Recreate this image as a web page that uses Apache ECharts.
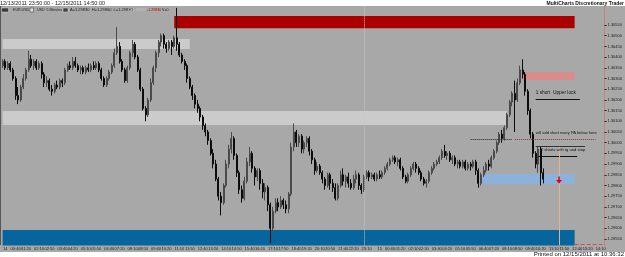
<!DOCTYPE html>
<html>
<head>
<meta charset="utf-8">
<script src="https://cdn.jsdelivr.net/npm/echarts/dist/echarts.min.js"></script>
<style>
html,body{margin:0;padding:0;background:#fff;}
#wrap{position:relative;width:625px;height:257px;overflow:hidden;background:#fff;}
#bg{position:absolute;left:0;top:6px;width:625px;height:246px;background:#a8a8a8;}
#chart{position:absolute;left:0;top:0;width:625px;height:257px;}
</style>
</head>
<body>
<div id="wrap"><div id="bg"></div><div id="chart"></div></div>
<script>
// ---- data (EUR.USD, 10-minute bars) ----
// each bar: [open, close, low, high]
const bars = [
[1.3036,1.3038,1.3035,1.3039],[1.3038,1.3035,1.3034,1.3039],[1.3035,1.3037,1.3034,1.3038],[1.3037,1.3034,1.3033,1.3038],
[1.3034,1.3030,1.3029,1.3035],[1.3030,1.3022,1.3020,1.3031],[1.3022,1.3020,1.3018,1.3026],[1.3020,1.3026,1.3019,1.3027],
[1.3026,1.3030,1.3025,1.3032],[1.3030,1.3034,1.3029,1.3035],[1.3034,1.3039,1.3033,1.3043],[1.3039,1.3036,1.3035,1.3041],
[1.3036,1.3038,1.3034,1.3039],[1.3038,1.3035,1.3034,1.3039],[1.3035,1.3037,1.3034,1.3038],[1.3037,1.3032,1.3030,1.3038],
[1.3032,1.3028,1.3026,1.3033],[1.3028,1.3029,1.3026,1.3031],[1.3029,1.3025,1.3024,1.3030],[1.3025,1.3024,1.3022,1.3027],
[1.3024,1.3027,1.3023,1.3028],[1.3027,1.3026,1.3025,1.3029],[1.3026,1.3029,1.3025,1.3030],[1.3029,1.3028,1.3026,1.3030],
[1.3028,1.3034,1.3027,1.3035],[1.3034,1.3036,1.3033,1.3037],[1.3036,1.3035,1.3034,1.3038],[1.3035,1.3038,1.3034,1.3040],
[1.3038,1.3036,1.3035,1.3040],[1.3036,1.3034,1.3033,1.3037],[1.3034,1.3035,1.3032,1.3036],[1.3035,1.3033,1.3032,1.3036],
[1.3033,1.3035,1.3032,1.3036],[1.3035,1.3034,1.3033,1.3037],[1.3034,1.3036,1.3033,1.3037],[1.3036,1.3035,1.3034,1.3038],
[1.3035,1.3037,1.3034,1.3038],[1.3037,1.3034,1.3033,1.3038],[1.3034,1.3030,1.3029,1.3035],[1.3030,1.3027,1.3026,1.3031],
[1.3027,1.3030,1.3026,1.3031],[1.3030,1.3033,1.3029,1.3034],[1.3033,1.3036,1.3032,1.3037],[1.3036,1.3042,1.3035,1.3044],
[1.3042,1.3045,1.3041,1.3054],[1.3045,1.3038,1.3037,1.3047],[1.3038,1.3034,1.3033,1.3039],[1.3034,1.3029,1.3028,1.3035],
[1.3029,1.3035,1.3028,1.3036],[1.3035,1.3042,1.3034,1.3043],[1.3042,1.3046,1.3040,1.3048],[1.3046,1.3040,1.3039,1.3047],
[1.3040,1.3034,1.3033,1.3041],[1.3034,1.3025,1.3024,1.3035],[1.3025,1.3016,1.3015,1.3026],[1.3016,1.3013,1.3010,1.3017],
[1.3013,1.3020,1.3012,1.3021],[1.3020,1.3028,1.3019,1.3030],[1.3028,1.3035,1.3027,1.3036],[1.3035,1.3042,1.3033,1.3043],
[1.3042,1.3047,1.3040,1.3048],[1.3047,1.3050,1.3045,1.3051],[1.3050,1.3046,1.3044,1.3051],[1.3046,1.3044,1.3042,1.3047],
[1.3044,1.3047,1.3043,1.3048],[1.3047,1.3045,1.3041,1.3048],[1.3045,1.3049,1.3044,1.3050],[1.3049,1.3046,1.3043,1.3063],
[1.3046,1.3041,1.3040,1.3047],[1.3041,1.3038,1.3037,1.3042],[1.3038,1.3036,1.3034,1.3039],[1.3036,1.3030,1.3028,1.3037],
[1.3030,1.3026,1.3025,1.3031],[1.3026,1.3022,1.3020,1.3027],[1.3022,1.3018,1.3016,1.3023],[1.3018,1.3016,1.3014,1.3020],
[1.3016,1.3012,1.3010,1.3017],[1.3012,1.3008,1.3006,1.3013],[1.3008,1.3005,1.3003,1.3009],[1.3005,1.3001,1.2999,1.3006],
[1.3001,1.2995,1.2994,1.3002],[1.2995,1.2990,1.2988,1.2997],[1.2990,1.2983,1.2982,1.2992],[1.2983,1.2975,1.2973,1.2984],
[1.2975,1.2972,1.2966,1.2977],[1.2972,1.2980,1.2971,1.2981],[1.2980,1.2990,1.2979,1.2992],[1.2990,1.2997,1.2988,1.2999],
[1.2997,1.3002,1.2995,1.3005],[1.3002,1.2994,1.2992,1.3003],[1.2994,1.2986,1.2984,1.2995],[1.2986,1.2978,1.2976,1.2987],
[1.2978,1.2974,1.2972,1.2980],[1.2974,1.2982,1.2973,1.2984],[1.2982,1.2991,1.2981,1.2993],[1.2991,1.2995,1.2989,1.2998],
[1.2995,1.2988,1.2986,1.2996],[1.2988,1.2984,1.2980,1.2989],[1.2984,1.2987,1.2982,1.2988],[1.2987,1.2981,1.2978,1.2988],
[1.2981,1.2977,1.2974,1.2983],[1.2977,1.2979,1.2973,1.2981],[1.2979,1.2971,1.2968,1.2980],[1.2971,1.2960,1.2953,1.2972],
[1.2960,1.2968,1.2958,1.2970],[1.2968,1.2972,1.2967,1.2974],[1.2972,1.2970,1.2968,1.2974],[1.2970,1.2973,1.2969,1.2975],
[1.2973,1.2971,1.2969,1.2974],[1.2971,1.2969,1.2967,1.2973],[1.2969,1.2976,1.2967,1.2977],[1.2976,1.2998,1.2975,1.3000],
[1.2998,1.3005,1.2996,1.3009],[1.3005,1.3000,1.2998,1.3006],[1.3000,1.3003,1.2998,1.3004],[1.3003,1.2997,1.2995,1.3004],
[1.2997,1.3000,1.2995,1.3001],[1.3000,1.3002,1.2998,1.3003],[1.3002,1.2996,1.2994,1.3003],[1.2996,1.2992,1.2990,1.2997],
[1.2992,1.2987,1.2985,1.2993],[1.2987,1.2989,1.2986,1.2991],[1.2989,1.2986,1.2985,1.2990],[1.2986,1.2983,1.2981,1.2987],
[1.2983,1.2980,1.2978,1.2984],[1.2980,1.2985,1.2979,1.2986],[1.2985,1.2981,1.2978,1.2986],[1.2981,1.2979,1.2977,1.2983],
[1.2979,1.2974,1.2973,1.2981],[1.2974,1.2980,1.2973,1.2981],[1.2980,1.2985,1.2979,1.2987],[1.2985,1.2982,1.2980,1.2988],
[1.2982,1.2984,1.2979,1.2985],[1.2984,1.2981,1.2979,1.2986],[1.2981,1.2979,1.2978,1.2983],[1.2979,1.2983,1.2978,1.2985],
[1.2983,1.2985,1.2981,1.2987],[1.2985,1.2980,1.2978,1.2986],[1.2980,1.2978,1.2976,1.2981],[1.2978,1.2984,1.2977,1.2985],
[1.2984,1.2986,1.2983,1.2987],[1.2986,1.2984,1.2982,1.2987],[1.2984,1.2985,1.2983,1.2986],[1.2985,1.2983,1.2982,1.2986],
[1.2983,1.2985,1.2982,1.2986],[1.2985,1.2984,1.2983,1.2987],[1.2984,1.2986,1.2983,1.2987],[1.2986,1.2988,1.2985,1.2989],
[1.2988,1.2990,1.2987,1.2991],[1.2990,1.2992,1.2989,1.2993],[1.2992,1.2993,1.2991,1.2994],[1.2993,1.2991,1.2990,1.2994],
[1.2991,1.2992,1.2989,1.2993],[1.2992,1.2988,1.2987,1.2993],[1.2988,1.2984,1.2983,1.2989],[1.2984,1.2982,1.2981,1.2985],
[1.2982,1.2985,1.2981,1.2986],[1.2985,1.2988,1.2984,1.2989],[1.2988,1.2990,1.2987,1.2991],[1.2990,1.2988,1.2986,1.2991],
[1.2988,1.2986,1.2985,1.2989],[1.2986,1.2983,1.2982,1.2987],[1.2983,1.2981,1.2980,1.2984],[1.2981,1.2982,1.2979,1.2983],
[1.2982,1.2986,1.2981,1.2987],[1.2986,1.2988,1.2985,1.2989],[1.2988,1.2990,1.2987,1.2991],[1.2990,1.2991,1.2989,1.2992],
[1.2991,1.2993,1.2990,1.2994],[1.2993,1.2996,1.2992,1.2997],[1.2996,1.2994,1.2993,1.2999],[1.2994,1.2995,1.2992,1.2996],
[1.2995,1.2992,1.2991,1.2996],[1.2992,1.2993,1.2990,1.2994],[1.2993,1.2990,1.2989,1.2994],[1.2990,1.2991,1.2988,1.2992],
[1.2991,1.2989,1.2988,1.2992],[1.2989,1.2991,1.2988,1.2992],[1.2991,1.2988,1.2987,1.2992],[1.2988,1.2990,1.2987,1.2991],
[1.2990,1.2989,1.2987,1.2991],[1.2989,1.2991,1.2988,1.2992],[1.2991,1.2987,1.2985,1.2992],[1.2987,1.2981,1.2979,1.2988],
[1.2981,1.2985,1.2980,1.2986],[1.2985,1.2987,1.2984,1.2989],[1.2987,1.2990,1.2986,1.2991],[1.2990,1.2989,1.2987,1.2992],
[1.2989,1.2993,1.2988,1.2994],[1.2993,1.2996,1.2992,1.2997],[1.2996,1.3000,1.2995,1.3001],[1.3000,1.3004,1.2999,1.3005],
[1.3004,1.3002,1.3000,1.3006],[1.3002,1.3007,1.3001,1.3008],[1.3007,1.3013,1.3006,1.3014],[1.3013,1.3019,1.3012,1.3020],
[1.3019,1.3023,1.3017,1.3024],[1.3023,1.3020,1.3005,1.3029],[1.3020,1.3028,1.3019,1.3030],[1.3028,1.3034,1.3027,1.3036],
[1.3034,1.3032,1.3030,1.3039],[1.3032,1.3024,1.3022,1.3033],[1.3024,1.3015,1.3013,1.3025],[1.3015,1.3004,1.3002,1.3016],
[1.3004,1.2995,1.2993,1.3005],[1.2995,1.2990,1.2988,1.2996],[1.2990,1.2997,1.2986,1.2998],[1.2997,1.2986,1.2980,1.2998],
[1.2986,1.2983,1.2981,1.2988]
];

// price scale tick labels
const yTicks = [1.2955,1.2960,1.2965,1.2970,1.2975,1.2980,1.2985,1.2990,1.2995,1.3000,
                1.3005,1.3010,1.3015,1.3020,1.3025,1.3030,1.3035,1.3040,1.3045,1.3050,1.3055];
const priceMin = 1.2952, priceMax = 1.3064;

// zones: [fromTime, toTime, lowPrice, highPrice]
const zoneRed       = ['12/14 10:50', '12/15 12:30', 1.30535, 1.30592];
const zoneUpperBand = ['12/13 23:50', '12/14 11:50', 1.30438, 1.30485];
const zoneMidBand   = ['12/13 23:50', '12/15 08:10', 1.30083, 1.30148];
const zoneBlue      = ['12/13 23:50', '12/15 12:30', 1.2952, 1.29592];
const zonePink      = ['12/15 09:10', '12/15 12:30', 1.30293, 1.30330];
const zoneLightBlue = ['12/15 06:30', '12/15 12:30', 1.29807, 1.29854];

// drawn lines: [fromTime, toTime, price]
const upperLockLine   = ['12/15 10:00', '12/15 12:50', 1.30202];
const addShortDotted  = ['12/15 05:50', '12/15 08:30', 1.30017];
const addShortRed     = ['12/15 08:40', '12/15 13:50', 1.30017];
const shortsTopLine   = ['12/15 10:00', '12/15 13:10', 1.29985];
const shortsUnderline = ['12/15 10:10', '12/15 12:40', 1.29938];
const futureBox       = ['12/15 12:30', '12/15 14:20', 1.29527];
const nowMarker  = ['12/15 11:30', 1.2998];   // vertical line from this price downwards
const arrowPoint = ['12/15 11:30', 1.29826];
const lastPrice = 1.2983;
const daySeparator = '12/14 23:00';

// text notes: [time, price, text]
const notes = [
  ['12/15 10:00', 1.30232, '1 short  Upper lock'],
  ['12/15 10:00', 1.30045, 'will add short every PA below here'],
  ['12/15 10:20', 1.29966, '2 shorts with tg and stop']
];

// ---- time axis categories (10-minute bars from 12/13 23:50) ----
const barMinutes = 10, startMinute = 23 * 60 + 50, barCount = 232;
const categories = [], xLabels = [];
for (let i = 0; i < barCount; i++) {
  const t = startMinute + i * barMinutes;
  const day = 13 + Math.floor(t / 1440);
  const m = t % 1440;
  const hh = String(Math.floor(m / 60)).padStart(2, '0');
  const mm = String(m % 60).padStart(2, '0');
  categories.push('12/' + day + ' ' + hh + ':' + mm);
  let lab = '';
  if (m === 0) lab = String(day);
  else {
    const dist = Math.min(m, 1440 - m);
    const newWin = Math.floor(i * barMinutes / 45) !== Math.floor((i - 1) * barMinutes / 45);
    if (newWin && dist >= 30) lab = hh + ':' + mm;
  }
  xLabels.push(lab);
}

const F = '"Liberation Sans", Arial, sans-serif';
function zone(z, color) {
  return [{ xAxis: z[0], yAxis: z[2], itemStyle: { color: color } }, { xAxis: z[1], yAxis: z[3] }];
}
function seg(l, color, type, width) {
  return [{ coord: [l[0], l[2]], lineStyle: { color: color, type: type, width: width } }, { coord: [l[1], l[2]] }];
}

const chart = echarts.init(document.getElementById('chart'), null, { renderer: 'canvas' });
chart.setOption({
  animation: false,
  backgroundColor: 'transparent',
  grid: { left: 1, right: 18, top: 5.74, bottom: 11.6, containLabel: false },
  xAxis: {
    type: 'category', data: categories, boundaryGap: true,
    axisLine: { show: false }, axisTick: { show: false }, splitLine: { show: false },
    axisLabel: {
      interval: function (i) { return xLabels[i] !== ''; },
      formatter: function (v, i) { return xLabels[i]; },
      fontSize: 4, color: '#1a1a1a', fontFamily: F, margin: 1.5
    }
  },
  yAxis: {
    type: 'value', position: 'right', min: priceMin, max: priceMax, scale: true,
    splitLine: { show: false },
    axisLine: { show: true, lineStyle: { color: '#cf7c7c', width: 1 } },
    axisTick: { show: true, customValues: yTicks, length: 2, lineStyle: { color: '#222' } },
    axisLabel: { customValues: yTicks, formatter: function (v) { return v.toFixed(5); },
                 fontSize: 4, color: '#1a1a1a', fontFamily: F, margin: 3 }
  },
  series: [
    {
      type: 'line', data: [], z: 1, silent: true,
      markArea: {
        silent: true,
        data: [
          zone(zoneUpperBand, '#cbcbcb'),
          zone(zoneMidBand, '#cbcbcb'),
          zone(zoneRed, '#aa0000'),
          zone(zoneBlue, '#07659e'),
          zone(zonePink, '#d98c8c'),
          zone(zoneLightBlue, '#8cb1da')
        ]
      }
    },
    {
      type: 'candlestick', data: bars, z: 3, barWidth: 1.6,
      itemStyle: { color: '#4a4a4a', color0: '#0c0c0c', borderColor: '#4a4a4a', borderColor0: '#0c0c0c', borderWidth: 1 },
      markLine: {
        silent: true, symbol: 'none', label: { show: false },
        data: [
          { xAxis: daySeparator, lineStyle: { color: '#c4c4c4', type: 'dotted', width: 1 } },
          seg(upperLockLine, '#111', 'solid', 1),
          seg(addShortDotted, '#222', 'dotted', 1),
          seg(addShortRed, '#8a3a3a', 'dotted', 1),
          seg(shortsTopLine, '#333', 'solid', 1),
          seg(shortsUnderline, '#111', 'solid', 1),
          seg(futureBox, '#d05050', 'dashed', 1),
          [{ coord: [nowMarker[0], nowMarker[1]], lineStyle: { color: '#dcb48e', type: 'solid', width: 1 } },
           { coord: [nowMarker[0], priceMin] }],
          { yAxis: lastPrice, lineStyle: { opacity: 0 },
            label: { show: true, position: 'end', distance: 1, formatter: lastPrice.toFixed(5),
                     backgroundColor: '#000', color: '#fff', fontSize: 4, fontFamily: F, padding: [1, 2] } }
        ]
      },
      markPoint: {
        silent: true,
        data: notes.map(function (n) {
          return { coord: [n[0], n[1]], symbol: 'rect', symbolSize: 0,
                   label: { show: true, position: 'right', distance: 0, formatter: n[2],
                            fontSize: n[2].length > 30 ? 4 : (n[2].length > 20 ? 4.1 : 4.8),
                            color: '#111', fontFamily: F } };
        }).concat([{ coord: arrowPoint, symbol: 'path://M3,0 L5,0 L5,4 L8,4 L4,8 L0,4 L3,4 Z',
                     symbolSize: [6, 7], itemStyle: { color: '#e00000' }, label: { show: false } }])
      }
    }
  ],
  graphic: [
    { type: 'line', shape: { x1: 0.5, y1: 6, x2: 0.5, y2: 245 }, style: { stroke: '#555', lineWidth: 1 } },
    { type: 'text', x: 0, y: 3.5, style: { text: '12/13/2011 23:50:00 - 12/15/2011 14:50:00', font: '5.5px ' + F, fill: '#222', verticalAlign: 'middle' } },
    { type: 'text', x: 624, y: 3.8, style: { text: 'MultiCharts Discretionary Trader', font: 'bold 5px ' + F, fill: '#111', align: 'right', verticalAlign: 'middle' } },
    { type: 'rect', shape: { x: 1.5, y: 8, width: 7, height: 4 }, style: { fill: '#3a3a3a', stroke: '#d8d8d8', lineWidth: 0.5 } },
    { type: 'text', x: 13, y: 10, style: { text: 'EUR.USD', font: '3.6px ' + F, fill: '#222', verticalAlign: 'middle' } },
    { type: 'rect', shape: { x: 30, y: 8, width: 3.5, height: 4 }, style: { fill: '#e0e0e0', stroke: '#333', lineWidth: 0.5 } },
    { type: 'text', x: 37, y: 10, style: { text: 'USD  5 Minutes', font: '3.6px ' + F, fill: '#222', verticalAlign: 'middle' } },
    { type: 'rect', shape: { x: 63, y: 8, width: 5, height: 4 }, style: { fill: '#444', stroke: '#d8d8d8', lineWidth: 0.5 } },
    { type: 'text', x: 70, y: 10, style: { text: 'A=1.29830  H=1.29860  L=1.29830', font: '4px ' + F, fill: '#222', verticalAlign: 'middle' } },
    { type: 'text', x: 128, y: 10, style: { text: 'C=1.29830', font: '3.6px ' + F, fill: '#c6c6c6', verticalAlign: 'middle' } },
    { type: 'text', x: 147, y: 10, style: { text: '-1.29830', font: '3.6px ' + F, fill: '#c00000', verticalAlign: 'middle' } },
    { type: 'text', x: 162, y: 10, style: { text: 'V=0', font: '3.6px ' + F, fill: '#222', verticalAlign: 'middle' } },
    { type: 'text', x: 624, y: 254.5, style: { text: 'Printed on 12/15/2011 at 10:36:32', font: '6px ' + F, fill: '#111', align: 'right', verticalAlign: 'middle' } }
  ]
});
</script>
</body>
</html>
